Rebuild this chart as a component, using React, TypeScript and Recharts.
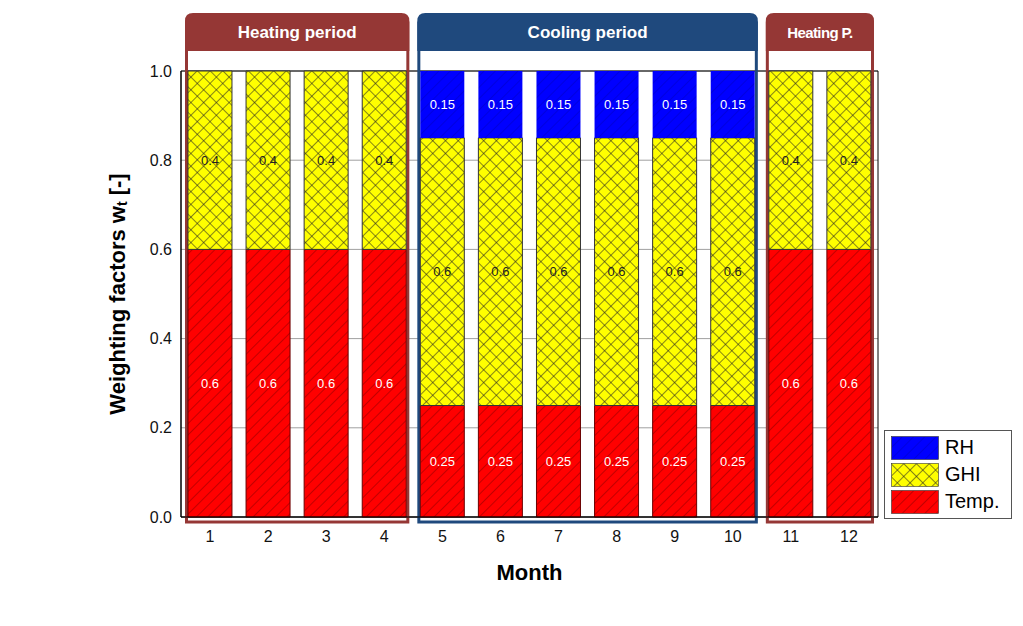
import React from 'react';
import {
  BarChart,
  Bar,
  XAxis,
  YAxis,
  CartesianGrid,
  Legend,
  ReferenceArea,
  LabelList,
} from 'recharts';

const months = ['1', '2', '3', '4', '5', '6', '7', '8', '9', '10', '11', '12'];
const tempWeights = [0.6, 0.6, 0.6, 0.6, 0.25, 0.25, 0.25, 0.25, 0.25, 0.25, 0.6, 0.6];
const ghiWeights = [0.4, 0.4, 0.4, 0.4, 0.6, 0.6, 0.6, 0.6, 0.6, 0.6, 0.4, 0.4];
const rhWeights = [0, 0, 0, 0, 0.15, 0.15, 0.15, 0.15, 0.15, 0.15, 0, 0];
const yTicks = [0, 0.2, 0.4, 0.6, 0.8, 1.0];
const legendOrder = ['RH', 'GHI', 'Temp.'];

const periods = [
  { name: 'Heating period', start: '1', end: '4', color: '#953735' },
  { name: 'Cooling period', start: '5', end: '10', color: '#1f497d' },
  { name: 'Heating P.', start: '11', end: '12', color: '#953735' },
];

const data = months.map((m, i) => ({
  month: m,
  temp: tempWeights[i],
  ghi: ghiWeights[i],
  rh: rhWeights[i],
}));

const FONT = '"Liberation Sans", Arial, sans-serif';

const hideZero = (v: any) => (Number(v) ? String(v) : '');

// outline + header drawn around a group of months
const PeriodBox = (props: any) => {
  const { x, y, width, height, label, color } = props;
  const left = x + 5.5;
  const right = x + width - 5.5;
  const top = y - 58;
  const bottom = y + height + 5;
  const r = 8;
  const hh = 38;
  return (
    <g>
      <rect
        x={left}
        y={top + 10}
        width={right - left}
        height={bottom - top - 10}
        fill="none"
        stroke={color}
        strokeWidth={3}
      />
      <path
        d={`M${left - 1.5},${top + hh} V${top + r} Q${left - 1.5},${top} ${left - 1.5 + r},${top} H${right + 1.5 - r} Q${right + 1.5},${top} ${right + 1.5},${top + r} V${top + hh} Z`}
        fill={color}
      />
      <text
        x={(left + right) / 2}
        y={top + hh / 2 + 6}
        textAnchor="middle"
        fill="#fff"
        fontWeight="bold"
        fontSize={label.length < 12 ? 15 : 17}
        letterSpacing={label.length < 12 ? -0.6 : 0}
        fontFamily={FONT}
      >
        {label}
      </text>
    </g>
  );
};

const YLabel = (props: any) => {
  const { viewBox } = props;
  const cx = viewBox.x + 22;
  const cy = viewBox.y + viewBox.height / 2;
  return (
    <text
      x={cx}
      y={cy}
      transform={`rotate(-90, ${cx}, ${cy})`}
      textAnchor="middle"
      dominantBaseline="central"
      fontSize={22}
      fontWeight="bold"
      fill="#000"
      fontFamily={FONT}
    >
      Weighting factors w
      <tspan fontSize={14} dy={5}>t</tspan>
      <tspan dy={-5}> [-]</tspan>
    </text>
  );
};

const LegendBox = (props: any) => {
  const items = [...(props.payload || [])].sort(
    (a: any, b: any) => legendOrder.indexOf(a.value) - legendOrder.indexOf(b.value)
  );
  return (
    <div
      style={{
        border: '1px solid #555',
        background: '#fff',
        padding: '3px 6px',
        width: 128,
        boxSizing: 'border-box',
        fontFamily: FONT,
      }}
    >
      {items.map((e: any) => (
        <div key={e.value} style={{ display: 'flex', alignItems: 'center', height: 27 }}>
          <svg width={48} height={24}>
            <rect x={0.5} y={0.5} width={47} height={23} fill={e.color} stroke="#333" strokeWidth={0.6} />
          </svg>
          <span style={{ marginLeft: 6, fontSize: 20, color: '#000' }}>{e.value}</span>
        </div>
      ))}
    </div>
  );
};

export default function App() {
  return (
    <div style={{ position: 'absolute', left: 0, top: 0, background: '#fff' }}>
      <BarChart
        width={1023}
        height={626}
        data={data}
        margin={{ top: 71, right: 145, bottom: 0, left: 95 }}
        barCategoryGap="12%"
        style={{ fontFamily: FONT }}
      >
        <defs>
          <pattern id="redHatch" patternUnits="userSpaceOnUse" width={8} height={8} patternTransform="rotate(45)">
            <rect width={8} height={8} fill="#ff0000" />
            <line x1={0} y1={0} x2={0} y2={8} stroke="#a80000" strokeWidth={1.4} />
          </pattern>
          <pattern id="yellowCross" patternUnits="userSpaceOnUse" width={9} height={9} patternTransform="rotate(45)">
            <rect width={9} height={9} fill="#ffff00" />
            <line x1={0} y1={0} x2={0} y2={9} stroke="#222" strokeWidth={1.1} />
            <line x1={0} y1={0} x2={9} y2={0} stroke="#222" strokeWidth={1.1} />
          </pattern>
          <pattern id="blueHatch" patternUnits="userSpaceOnUse" width={8} height={8} patternTransform="rotate(45)">
            <rect width={8} height={8} fill="#0000ff" />
            <line x1={0} y1={0} x2={0} y2={8} stroke="#0000cc" strokeWidth={1.2} />
          </pattern>
        </defs>
        <CartesianGrid vertical={false} stroke="#a0a0a0" />
        <XAxis
          dataKey="month"
          height={109}
          tickLine={false}
          axisLine={{ stroke: '#000' }}
          tickMargin={8}
          tick={{ fill: '#111', fontSize: 16 }}
          label={{ value: 'Month', position: 'insideTop', offset: 47, fontSize: 22, fontWeight: 'bold', fill: '#000' }}
        />
        <YAxis
          width={86}
          domain={[0, 1]}
          ticks={yTicks}
          tickFormatter={(v: number) => v.toFixed(1)}
          tickLine={false}
          axisLine={{ stroke: '#000' }}
          tickMargin={3}
          tick={{ fill: '#111', fontSize: 16 }}
          label={<YLabel />}
        />
        <Bar dataKey="temp" name="Temp." stackId="w" fill="url(#redHatch)" stroke="#6a0000" strokeWidth={1} isAnimationActive={false}>
          <LabelList dataKey="temp" position="center" fill="#fff" fontSize={13} formatter={hideZero} />
        </Bar>
        <Bar dataKey="ghi" name="GHI" stackId="w" fill="url(#yellowCross)" stroke="#333" strokeWidth={1} isAnimationActive={false}>
          <LabelList dataKey="ghi" position="center" fill="#222" fontSize={13} formatter={hideZero} />
        </Bar>
        <Bar dataKey="rh" name="RH" stackId="w" fill="url(#blueHatch)" isAnimationActive={false}>
          <LabelList dataKey="rh" position="center" fill="#fff" fontSize={13} formatter={hideZero} />
        </Bar>
        <ReferenceArea y1={0} y2={1} fill="none" stroke="#000" strokeWidth={1} ifOverflow="visible" />
        {periods.map((p) => (
          <ReferenceArea
            key={p.name}
            x1={p.start}
            x2={p.end}
            y1={0}
            y2={1}
            ifOverflow="visible"
            shape={(sp: any) => <PeriodBox {...sp} label={p.name} color={p.color} />}
          />
        ))}
        <Legend
          layout="vertical"
          align="center"
          verticalAlign="middle"
          content={<LegendBox />}
          wrapperStyle={{ left: 884, top: 430, width: 128 }}
        />
      </BarChart>
    </div>
  );
}
